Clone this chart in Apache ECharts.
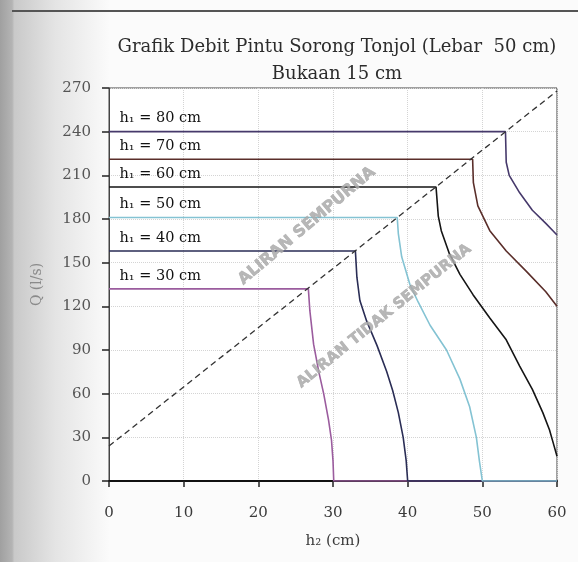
<!DOCTYPE html>
<html>
<head>
<meta charset="utf-8">
<script src="https://cdn.jsdelivr.net/npm/echarts@6/dist/echarts.min.js"></script>
<style>
html,body{margin:0;padding:0;background:#fbfbfb;}
#chart{width:578px;height:562px;}
</style>
</head>
<body>
<div id="chart"></div>
<script>
// ---- data (h2 in cm, Q in l/s) ----
var xTicks = [0, 10, 20, 30, 40, 50, 60];
var yTicks = [0, 30, 60, 90, 120, 150, 180, 210, 240, 270];
var seriesNames = ['h₁ = 30 cm', 'h₁ = 40 cm', 'h₁ = 50 cm', 'h₁ = 60 cm', 'h₁ = 70 cm', 'h₁ = 80 cm'];
var boundaryLine = [[0, 24], [60, 268]];
var h1_30 = [[0,132],[26.7,132],[26.9,117],[27.4,94],[28.1,75],[28.75,60],[29.4,42],[29.8,28],[30,14],[30.1,0],[60,0]];
var h1_40 = [[0,158],[33,158],[33.2,140],[33.6,124],[34.5,110],[35.9,93],[37.2,75],[38,62],[38.75,47],[39.4,30],[39.8,14],[40,0],[60,0]];
var h1_50 = [[0,181],[38.6,181],[38.75,170],[39.2,154],[40.3,135],[41.4,123],[43,107],[45.2,90],[47,70],[48.3,51],[49.2,30],[49.6,14],[50,0],[60,0]];
var h1_60 = [[0,202],[43.8,202],[44.1,182],[44.5,172],[45.6,156],[47,142],[48.75,128],[51,112],[53.2,97],[55,79],[56.7,63],[58.1,47],[59,35],[59.5,26],[60,17]];
var h1_70 = [[0,221],[48.7,221],[48.8,205],[49.4,189],[51,172],[53.2,158],[55.9,144],[58.5,130],[60,120]];
var h1_80 = [[0,240],[53.1,240],[53.2,219],[53.6,210],[55,198],[56.7,186],[58.5,177],[60,169]];
var curves = [h1_30, h1_40, h1_50, h1_60, h1_70, h1_80];
var colors = ['#9b5c9e', '#2a2d55', '#84c3d3', '#151515', '#5a2e2a', '#46396b'];

var serif = 'DejaVu Serif';
var chart = echarts.init(document.getElementById('chart'));

var series = curves.map(function (pts, i) {
  return {
    name: seriesNames[i], type: 'line', data: pts, showSymbol: false, symbol: 'none',
    lineStyle: { color: colors[i], width: 1.6 }, z: 3, animation: false
  };
});
// labels for each h1 curve, anchored at the curve's first point
series.push({
  name: 'labels', type: 'scatter', symbol: 'circle', symbolSize: 1,
  itemStyle: { color: 'rgba(0,0,0,0)', opacity: 1 }, z: 5, animation: false, silent: true,
  data: curves.map(function (pts, i) { return { value: pts[0], name: seriesNames[i] }; }),
  label: {
    show: true, position: 'right', distance: 0, offset: [10, -13],
    formatter: function (p) { return p.name; },
    fontFamily: serif, fontSize: 14.5, color: '#111'
  }
});
series.push({
  name: 'batas', type: 'line', data: boundaryLine, symbol: 'none',
  lineStyle: { color: '#333', width: 1.3, type: [6, 4] }, z: 4, animation: false
});

chart.setOption({
  backgroundColor: 'transparent',
  animation: false,
  title: {
    text: 'Grafik Debit Pintu Sorong Tonjol (Lebar  50 cm)\nBukaan 15 cm',
    left: 332, top: 29, textAlign: 'center',
    textStyle: { fontFamily: serif, fontSize: 18, fontWeight: 'normal', color: '#2c2c2c', lineHeight: 27 }
  },
  graphic: [
    { type: 'rect', z: -10, shape: { x: 0, y: 0, width: 110, height: 562 },
      style: { fill: new echarts.graphic.LinearGradient(0, 0, 1, 0, [
        { offset: 0, color: '#a0a0a0' }, { offset: 0.11, color: '#b4b4b4' },
        { offset: 0.13, color: '#c9c9c9' }, { offset: 0.5, color: '#e4e4e4' }, { offset: 1, color: '#fbfbfb' }]) } },
    { type: 'line', z: -5, shape: { x1: 12, y1: 11, x2: 578, y2: 11 }, style: { stroke: '#555', lineWidth: 2 } },
    { type: 'text', z: 10, x: 307, y: 226, rotation: 0.70,
      style: { text: 'ALIRAN SEMPURNA', fontFamily: 'DejaVu Sans', fontWeight: 'bold', fontSize: 16,
        fill: 'rgba(170,170,170,0.85)', stroke: 'rgba(130,130,130,0.6)', lineWidth: 0.6, align: 'center', verticalAlign: 'middle' } },
    { type: 'text', z: 10, x: 384, y: 316, rotation: 0.68,
      style: { text: 'ALIRAN TIDAK SEMPURNA', fontFamily: 'DejaVu Sans', fontWeight: 'bold', fontSize: 15,
        fill: 'rgba(170,170,170,0.85)', stroke: 'rgba(130,130,130,0.6)', lineWidth: 0.6, align: 'center', verticalAlign: 'middle' } }
  ],
  grid: { left: 109, right: 21, top: 88, bottom: 81, show: true, borderColor: '#444', borderWidth: 1, backgroundColor: '#fff' },
  xAxis: {
    type: 'value', min: xTicks[0], max: xTicks[xTicks.length - 1], interval: 10,
    name: 'h₂ (cm)', nameLocation: 'middle', nameGap: 53,
    nameTextStyle: { fontFamily: serif, fontSize: 15, color: '#3a3a3a' },
    axisLine: { show: true, lineStyle: { color: '#111', width: 2 } },
    axisTick: { show: true, inside: false, length: 6, lineStyle: { color: '#222', width: 1.5 } },
    axisLabel: { fontFamily: serif, fontSize: 15, color: '#3a3a3a', margin: 25 },
    splitLine: { show: true, lineStyle: { color: '#d4d4d4', width: 1, type: 'dotted' } }
  },
  yAxis: {
    type: 'value', min: yTicks[0], max: yTicks[yTicks.length - 1], interval: 30,
    name: 'Q (l/s)', nameLocation: 'middle', nameGap: 65, nameRotate: 90,
    nameTextStyle: { fontFamily: serif, fontSize: 14, color: '#8a8a8a' },
    axisLine: { show: true, lineStyle: { color: '#444', width: 1 } },
    axisTick: { show: true, inside: false, length: 7, lineStyle: { color: '#222', width: 1.5 } },
    axisLabel: { fontFamily: serif, fontSize: 15, color: '#555', margin: 18 },
    splitLine: { show: true, lineStyle: { color: '#d4d4d4', width: 1, type: 'dotted' } }
  },
  series: series
});
</script>
</body>
</html>
